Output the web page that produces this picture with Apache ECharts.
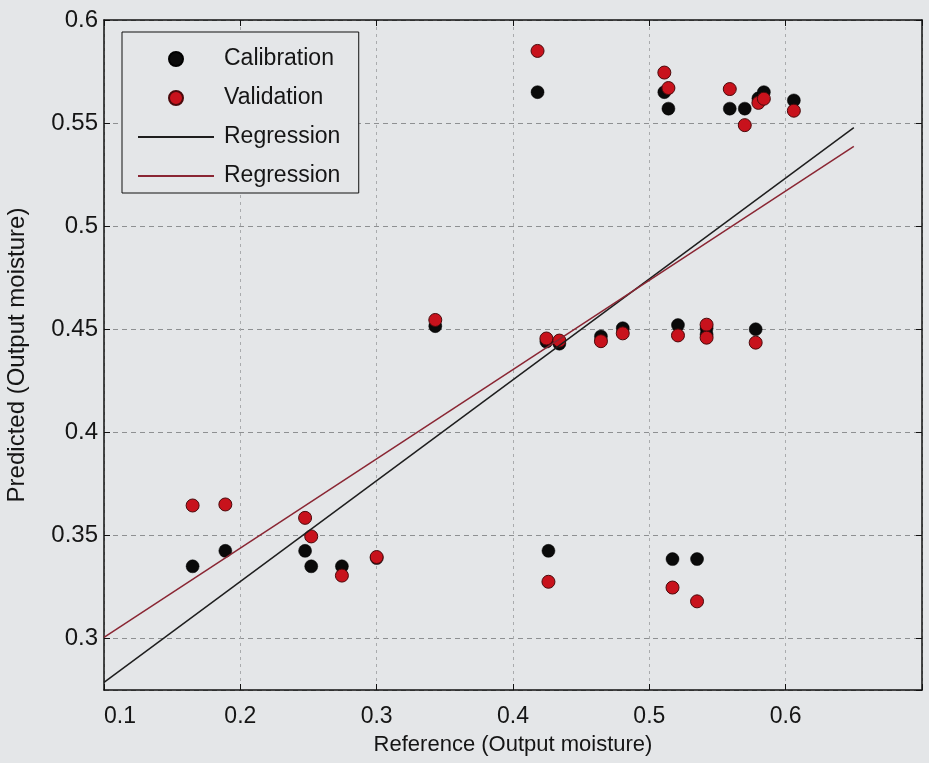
<!DOCTYPE html>
<html>
<head>
<meta charset="utf-8">
<script src="https://cdn.jsdelivr.net/npm/echarts@6/dist/echarts.min.js"></script>
<style>
  html, body { margin: 0; padding: 0; background: #e4e6e8; }
  #chart { width: 929px; height: 763px; }
</style>
</head>
<body>
<div id="chart"></div>
<script>
// Calibration set: reference vs predicted output moisture
const calX = [0.165, 0.189, 0.2475, 0.252, 0.2745, 0.300, 0.343, 0.418, 0.4245, 0.426, 0.434, 0.4645, 0.4805,
              0.511, 0.514, 0.517, 0.521, 0.535, 0.542, 0.542, 0.559, 0.570, 0.578, 0.580, 0.584, 0.606];
const calY = [0.335, 0.3425, 0.3425, 0.335, 0.335, 0.339, 0.4515, 0.565, 0.444, 0.3425, 0.443, 0.4465, 0.4505,
              0.565, 0.557, 0.3385, 0.452, 0.3385, 0.4505, 0.4475, 0.557, 0.557, 0.450, 0.562, 0.565, 0.561];

// Validation set
const valX = [0.165, 0.189, 0.2475, 0.252, 0.2745, 0.300, 0.343, 0.418, 0.4245, 0.426, 0.434, 0.4645, 0.4805,
              0.511, 0.514, 0.517, 0.521, 0.535, 0.542, 0.542, 0.559, 0.570, 0.578, 0.580, 0.584, 0.606];
const valY = [0.3645, 0.365, 0.3585, 0.3495, 0.3305, 0.3395, 0.4545, 0.585, 0.4455, 0.3275, 0.4445, 0.4442, 0.448,
              0.5745, 0.567, 0.3247, 0.447, 0.318, 0.4522, 0.4459, 0.5665, 0.549, 0.4435, 0.5598, 0.5618, 0.556];

// Regression lines (end points)
const fitX = [0.1, 0.65];
const calFitY = [0.2787, 0.5478];
const valFitY = [0.3005, 0.5387];

// Axis tick values
const xTicks = [0.1, 0.2, 0.3, 0.4, 0.5, 0.6];
const yTicks = [0.3, 0.35, 0.4, 0.45, 0.5, 0.55, 0.6];

const zip = (xs, ys) => xs.map((x, i) => [x, ys[i]]);

const FONT = 'Liberation Sans, Arial, sans-serif';
const TXT = '#151515';
const BG = '#e4e6e8';

const chart = echarts.init(document.getElementById('chart'), null, { renderer: 'canvas' });

const yLabel = v => yTicks.some(t => Math.abs(t - v) < 1e-9) ? String(+v.toFixed(3)) : '';
const xLabel = v => xTicks.some(t => Math.abs(t - v) < 1e-9) ? String(+v.toFixed(3)) : '';

// line entries in the legend show only the stroke, no marker
const noMarker = { color: 'rgba(0,0,0,0)', borderWidth: 0, opacity: 0 };

chart.setOption({
  backgroundColor: BG,
  animation: false,
  grid: { left: 104, right: 7, top: 20, bottom: 73, containLabel: false, outerBoundsMode: 'none' },
  legend: {
    orient: 'vertical',
    left: 122,
    top: 32,
    padding: [15, 12, 5, 15],
    itemWidth: 76,
    itemHeight: 14,
    itemGap: 15,
    borderColor: '#111',
    borderWidth: 1,
    backgroundColor: BG,
    textStyle: { fontFamily: FONT, fontSize: 23, lineHeight: 20, color: TXT, padding: [4, 0, 0, 5] },
    data: [
      { name: 'Calibration' },
      { name: 'Validation' },
      { name: 'Regression', itemStyle: noMarker },
      { name: 'Regression ', itemStyle: noMarker }
    ]
  },
  xAxis: [{
    type: 'value',
    min: 0.1, max: 0.7, interval: 0.1,
    name: 'Reference (Output moisture)',
    nameLocation: 'middle',
    nameGap: 44,
    nameTextStyle: { fontFamily: FONT, fontSize: 22, color: TXT },
    axisLine: { show: true, lineStyle: { color: '#111', width: 1.5 } },
    axisTick: { show: true, inside: true, length: 6, lineStyle: { color: '#111' } },
    axisLabel: { fontFamily: FONT, fontSize: 23, color: TXT, margin: 15, alignMinLabel: 'left', formatter: xLabel },
    splitLine: { show: true, lineStyle: { color: '#a9abad', type: [3, 4], width: 1 } }
  }, {
    type: 'value', position: 'top',
    min: 0.1, max: 0.7, interval: 0.1,
    axisLine: { show: true, lineStyle: { color: '#111', width: 1.5 } },
    axisTick: { show: true, inside: true, length: 6, lineStyle: { color: '#111' } },
    axisLabel: { show: false },
    splitLine: { show: false }
  }],
  yAxis: [{
    type: 'value',
    min: 0.275, max: 0.6,
    splitNumber: 6,
    name: 'Predicted (Output moisture)',
    nameLocation: 'middle',
    nameGap: 75,
    nameTextStyle: { fontFamily: FONT, fontSize: 24, color: TXT },
    axisLine: { show: true, lineStyle: { color: '#111', width: 1.5 } },
    axisTick: { show: true, inside: true, length: 6, lineStyle: { color: '#111' } },
    axisLabel: { fontFamily: FONT, fontSize: 24, color: TXT, margin: 6, showMinLabel: false, formatter: yLabel },
    splitLine: { show: true, lineStyle: { color: '#8e9092', type: [5, 4], width: 1 } }
  }, {
    type: 'value', position: 'right',
    min: 0.275, max: 0.6,
    splitNumber: 6,
    axisLine: { show: true, lineStyle: { color: '#111', width: 1.5 } },
    axisTick: { show: true, inside: true, length: 6, lineStyle: { color: '#111' } },
    axisLabel: { show: false },
    splitLine: { show: false }
  }],
  series: [{
    name: 'Calibration',
    type: 'scatter',
    symbol: 'circle',
    symbolSize: 13,
    itemStyle: { color: '#0a0a0a', borderColor: '#000', borderWidth: 0.5, opacity: 1 },
    data: zip(calX, calY),
    z: 3
  }, {
    name: 'Validation',
    type: 'scatter',
    symbol: 'circle',
    symbolSize: 13,
    itemStyle: { color: '#c8121c', borderColor: '#4a0a0c', borderWidth: 1, opacity: 1 },
    data: zip(valX, valY),
    z: 4
  }, {
    name: 'Regression',
    type: 'line',
    symbol: 'none',
    lineStyle: { color: '#1e1e1e', width: 1.5 },
    itemStyle: { color: '#1e1e1e' },
    data: zip(fitX, calFitY),
    z: 5
  }, {
    name: 'Regression ',
    type: 'line',
    symbol: 'none',
    lineStyle: { color: '#8a2633', width: 1.5 },
    itemStyle: { color: '#8a2633' },
    data: zip(fitX, valFitY),
    z: 5
  }]
});
</script>
</body>
</html>
